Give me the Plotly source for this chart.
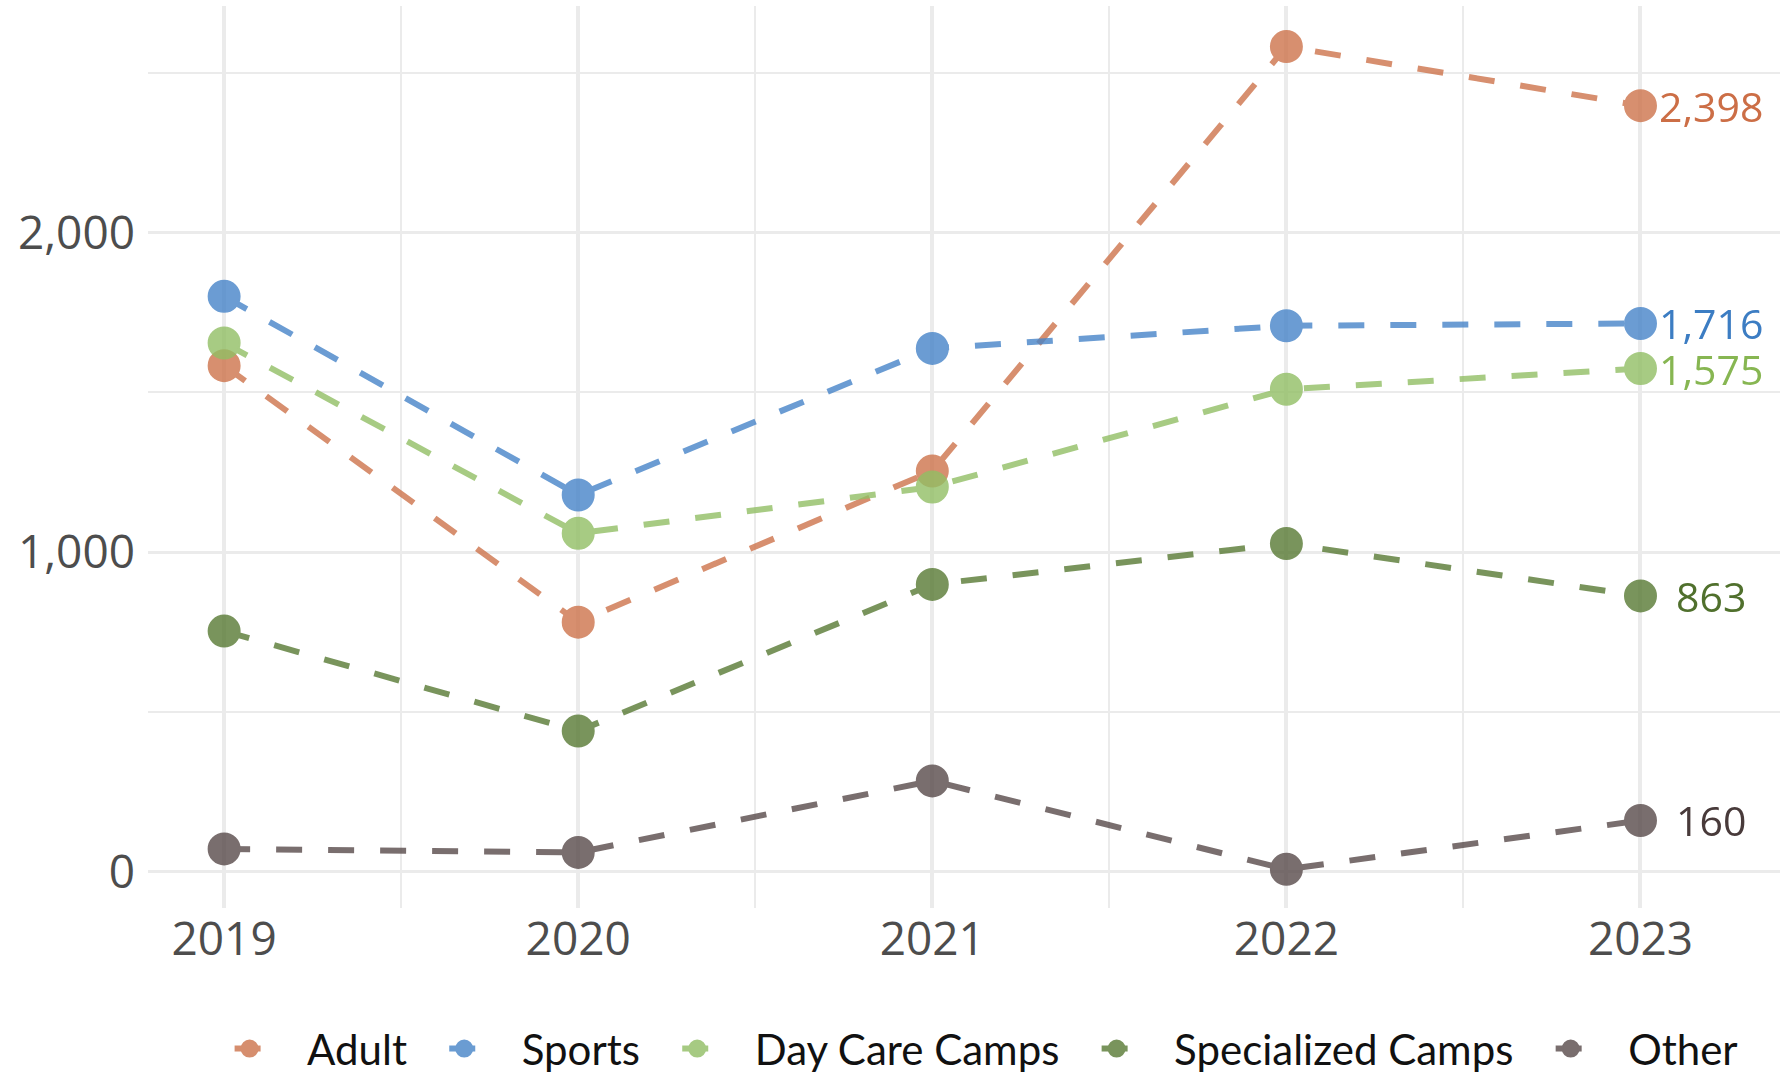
import plotly.graph_objects as go

years = [2019, 2020, 2021, 2022, 2023]
adult = [1584, 781, 1254, 2583, 2398]
sports = [1801, 1179, 1638, 1709, 1716]
day_care = [1655, 1059, 1204, 1510, 1575]
specialized = [753, 440, 899, 1027, 863]
other = [71, 60, 284, 7, 160]

series = [
    ("Adult", adult, "rgb(205,115,75)", "rgb(204,110,70)"),
    ("Sports", sports, "rgb(70,132,200)", "rgb(60,125,195)"),
    ("Day Care Camps", day_care, "rgb(145,190,100)", "rgb(135,182,82)"),
    ("Specialized Camps", specialized, "rgb(88,122,52)", "rgb(80,112,45)"),
    ("Other", other, "rgb(88,74,74)", "rgb(72,58,58)"),
]

NB = "\u00a0"
TS = "\u2009"
fig = go.Figure()
for name, vals, col, lab in series:
    fig.add_trace(go.Scatter(
        x=years, y=vals, mode="lines+markers",
        name=NB * 3 + TS + name + NB * 3,
        line=dict(color=col, width=6, dash="26px,26px"),
        marker=dict(size=31, color=col, line=dict(color=col, width=2)),
        opacity=0.8,
    ))
    fig.add_annotation(
        x=2023.2, y=vals[-1], text=f"{vals[-1]:,}", showarrow=False,
        xanchor="center", yanchor="middle",
        font=dict(family="Open Sans", size=41, color=lab),
    )

grid_major = "#ebebeb"
fig.update_layout(
    width=1780, height=1074,
    margin=dict(l=148, r=0, t=6, b=166, autoexpand=False),
    plot_bgcolor="white", paper_bgcolor="white",
    showlegend=True,
    legend=dict(
        orientation="h", x=0.05, xanchor="left", y=-0.156, yanchor="middle",
        font=dict(family="Lato", size=42, color="#111111"),
        itemwidth=30,
    ),
    font=dict(family="Open Sans"),
)
fig.update_xaxes(
    range=[2018.785, 2023.394], tickmode="array", tickvals=years,
    ticktext=[str(y) for y in years], automargin=False,
    showgrid=True, gridcolor=grid_major, gridwidth=4,
    minor=dict(tickmode="linear", tick0=2018.5, dtick=0.5, showgrid=True, gridcolor=grid_major, gridwidth=2),
    zeroline=False, showline=False, ticks="",
    tickfont=dict(family="Open Sans", size=46, color="#4d4d4d"),
)
fig.update_yaxes(
    range=[-114, 2710], tickmode="linear", tick0=0, dtick=1000, tickformat=",",
    showgrid=True, gridcolor=grid_major, gridwidth=3, automargin=False,
    minor=dict(tickmode="linear", tick0=500, dtick=500, showgrid=True, gridcolor=grid_major, gridwidth=2),
    zeroline=False, showline=False, ticks="",
    ticklabelstandoff=12,
    tickfont=dict(family="Open Sans", size=46, color="#4d4d4d"),
)
fig.write_html(
    "out.html",
    config={"displayModeBar": False},
    post_script="document.body.style.margin='0';document.body.style.padding='0';",
)
